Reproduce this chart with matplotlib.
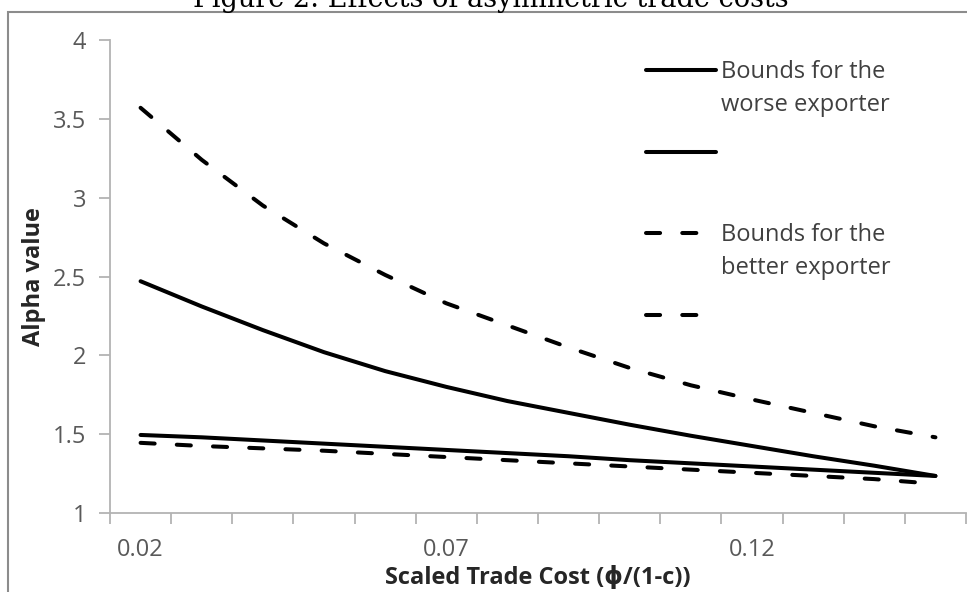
import matplotlib
matplotlib.use("Agg")
import matplotlib.pyplot as plt
from matplotlib.lines import Line2D
from matplotlib.patches import Rectangle

# data
trade_cost = [0.02, 0.03, 0.04, 0.05, 0.06, 0.07, 0.08, 0.09, 0.10, 0.11, 0.12, 0.13, 0.14, 0.15]
tick_labels = ["0.02", "0.07", "0.12"]
worse_upper = [2.47, 2.31, 2.16, 2.02, 1.90, 1.80, 1.71, 1.635, 1.56, 1.49, 1.425, 1.36, 1.30, 1.235]
worse_lower = [1.495, 1.48, 1.46, 1.44, 1.42, 1.40, 1.38, 1.36, 1.335, 1.315, 1.295, 1.275, 1.255, 1.235]
better_upper = [3.57, 3.24, 2.95, 2.71, 2.51, 2.33, 2.19, 2.05, 1.92, 1.81, 1.72, 1.635, 1.55, 1.48]
better_lower = [1.445, 1.425, 1.41, 1.395, 1.375, 1.355, 1.335, 1.315, 1.295, 1.275, 1.255, 1.235, 1.215, 1.185]

W, H = 967, 592
fig = plt.figure(figsize=(W / 100, H / 100), dpi=100)
plt.rcParams['font.family'] = ['Open Sans', 'DejaVu Sans']

def fx(x):
    return x / W

def fy(y):
    return 1 - y / H

# plot area in pixels
ax = fig.add_axes([fx(110), fy(513), fx(966) - fx(110), fy(40) - fy(513)])

xs = list(range(len(trade_cost)))
solid = dict(color="black", lw=2.9, solid_capstyle="round")
dashed = dict(color="black", lw=2.9, dashes=(3.5, 5.5), dash_capstyle="round")
ax.plot(xs, better_upper, **dashed)
ax.plot(xs, worse_upper, **solid)
ax.plot(xs, worse_lower, **solid)
ax.plot(xs, better_lower, **dashed)

ax.set_xlim(-0.5, len(xs) - 0.5)
ax.set_ylim(1, 4)
ax.set_yticks([1, 1.5, 2, 2.5, 3, 3.5, 4])
ax.set_yticklabels(["1", "1.5", "2", "2.5", "3", "3.5", "4"])

# category axis: ticks between categories, labels every 5th
ax.set_xticks([i - 0.5 for i in range(len(xs) + 1)])
ax.set_xticklabels([])
lab_pos = [trade_cost.index(float(t)) for t in tick_labels]
ax.set_xticks(lab_pos, minor=True)
ax.set_xticklabels(tick_labels, minor=True)
ax.tick_params(axis="x", which="minor", length=0, pad=18)

grey = "#b3b3b3"
for s in ["top", "right"]:
    ax.spines[s].set_visible(False)
for s in ["left", "bottom"]:
    ax.spines[s].set_color(grey)
    ax.spines[s].set_linewidth(1.3)
ax.tick_params(axis="both", which="major", color=grey, width=1.3, length=8)
ax.tick_params(axis="both", which="both", labelsize=17, labelcolor="#595959")
ax.tick_params(axis="y", pad=9)

ax.set_ylabel("Alpha value", fontsize=17, fontweight="bold", color="#262626", labelpad=5)
ax.set_xlabel("Scaled Trade Cost (ϕ/(1-c))", fontsize=17, fontweight="bold", color="#262626", labelpad=3)

# legend drawn by hand (Excel style, handles aligned with first text line)
legend_items = [
    (["Bounds for the", "worse exporter"], solid, 70),
    ([], solid, 152),
    (["Bounds for the", "better exporter"], dashed, 233),
    ([], dashed, 315),
]
for lines, style, y in legend_items:
    end = 716 if style is solid else 700
    fig.add_artist(Line2D([fx(646), fx(end)], [fy(y), fy(y)], transform=fig.transFigure, **style))
    for k, line in enumerate(lines):
        fig.text(fx(721), fy(y + 2 + 33 * k), line, fontsize=17, color="#404040",
                 va="center", ha="left")

# outer chart border and cut-off caption
fig.add_artist(Rectangle((fx(8), fy(600)), fx(990), fy(12) - fy(600), transform=fig.transFigure,
                         fill=False, edgecolor="#8c8c8c", lw=1.5))
fig.text(fx(491), fy(7), "Figure 2: Effects of asymmetric trade costs", family="DejaVu Serif",
         fontsize=19.5, ha="center", va="baseline", color="black")

fig.savefig("out.png", dpi=100)
